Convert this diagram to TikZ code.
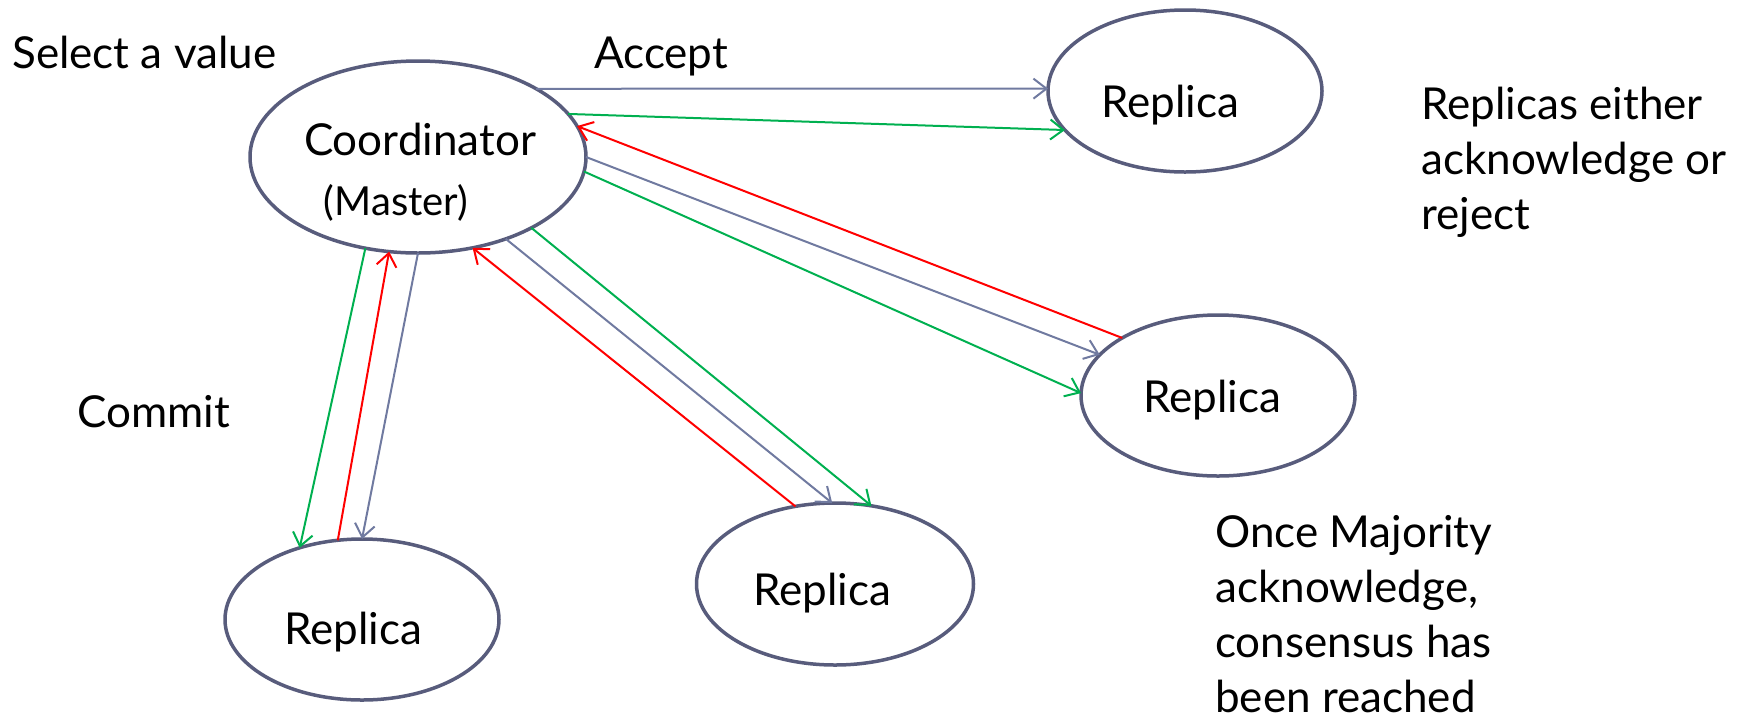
\documentclass[tikz,border=0pt]{standalone}
\usepackage{fontspec}
\setmainfont{Lato}
\usetikzlibrary{arrows.meta,shapes.geometric}

\definecolor{rim}{RGB}{88,92,124}
\definecolor{msg}{RGB}{112,122,160}
\definecolor{ackgreen}{RGB}{0,176,80}
\definecolor{rejred}{RGB}{255,0,0}

\tikzset{
  peer/.style={ellipse, draw=rim, line width=3.5pt, outer sep=0pt, inner sep=0pt, fill=white},
  caption/.style={inner sep=0pt, font=\fontsize{44}{55}\selectfont},
  small/.style={inner sep=0pt, font=\fontsize{40}{48}\selectfont},
  link/.style={line width=2pt, -{Straight Barb[length=13pt,width=20pt]}},
  accept/.style={link, msg},
  commit/.style={link, ackgreen},
  reply/.style={link, rejred},
}

\begin{document}
\begin{tikzpicture}[x=1pt,y=-1pt]
\useasboundingbox (0,0) rectangle (1743,724);

% processes
\node[peer, minimum width=336pt, minimum height=192pt] (coord) at (418,157) {};
\node[peer, minimum width=274pt, minimum height=162pt] (rA) at (1185,91) {};
\node[peer, minimum width=274pt, minimum height=161pt] (rB) at (1218,395.5) {};
\node[peer, minimum width=277pt, minimum height=162pt] (rC) at (835,584) {};
\node[peer, minimum width=274pt, minimum height=161pt] (rD) at (362,619.5) {};

% process names
\node[caption, anchor=base] (tcoord) at (420,155) {Coordinator};
\node[small, anchor=base] (tmaster) at (396,215) {(Master)};
\node[caption, anchor=base] (tA) at (1170,117) {Replica};
\node[caption, anchor=base] (tB) at (1212,412) {Replica};
\node[caption, anchor=base] (tC) at (822,605) {Replica};
\node[caption, anchor=base] (tD) at (353,644) {Replica};

% phase labels and remarks (multi-line nodes sit on their last baseline)
\node[caption, anchor=base west] (select) at (12,68) {Select a value};
\node[caption, anchor=base west] (accept) at (594,68) {Accept};
\node[caption, anchor=base west] (commit) at (77,427) {Commit};
\node[caption, anchor=base west, align=left] (either) at (1421,229)
  {Replicas either\\acknowledge or\\reject};
\node[caption, anchor=base west, align=left] (majority) at (1215,712)
  {Once Majority\\acknowledge,\\consensus has\\been reached};

% top replica
\draw[accept] (coord.30.5) -- (rA.179.6);
\draw[commit] (coord.16.5) -- (rA.198.4);

% right replica
\draw[accept] (coord.0.3) -- (rB.161.8);
\draw[commit] (coord.-5.6) -- (rB.179.8);
\draw[reply] (rB.149.3) -- (coord.11.5);

% bottom middle replica
\draw[accept] (coord.-43.2) -- (rC.92.1);
\draw[commit] (coord.-32.6) -- (rC.65.2);
\draw[reply] (rC.117.96) -- (coord.-59.1);

% bottom left replica
\draw[accept] (coord.-90.6) -- (rD.90);
\draw[commit] (coord.-120.5) -- (rD.131.8);
\draw[reply] (rD.107) -- (coord.-107);
\end{tikzpicture}
\end{document}
